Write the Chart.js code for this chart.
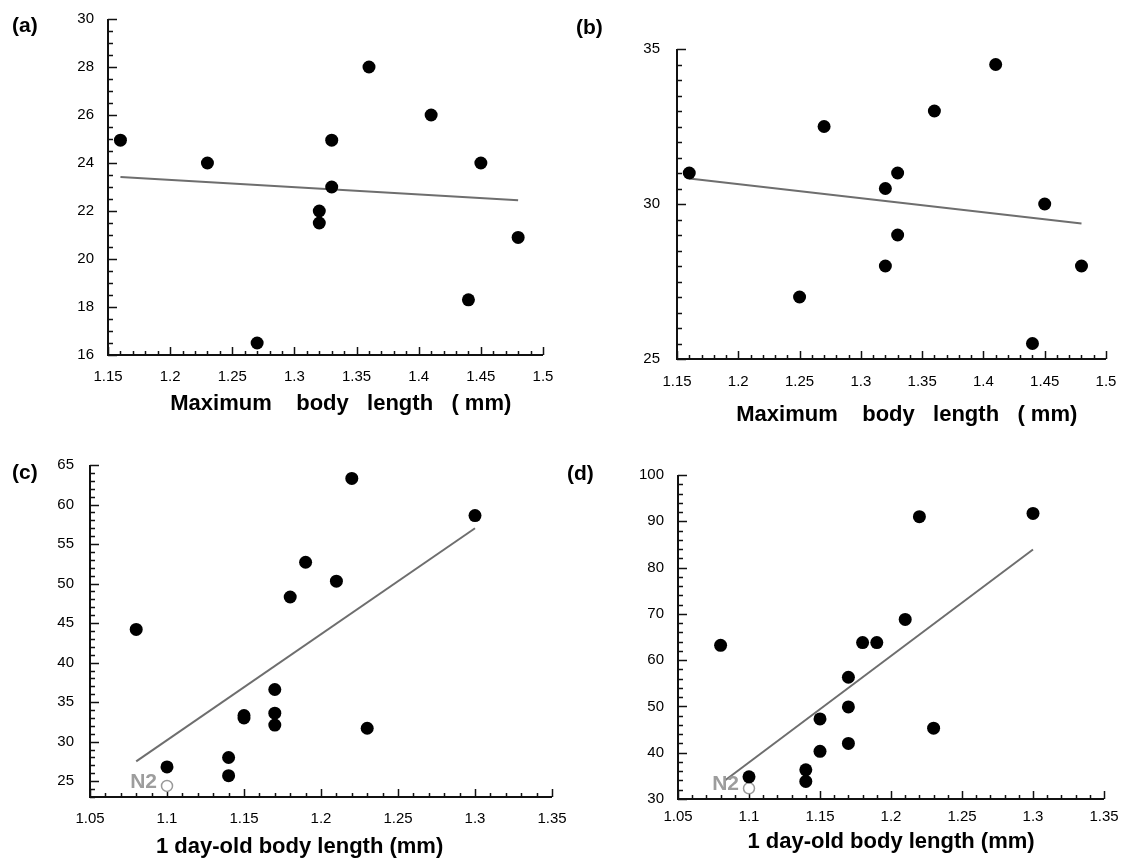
<!DOCTYPE html>
<html>
<head>
<meta charset="utf-8">
<title>Body length scatter plots</title>
<script src="https://cdn.jsdelivr.net/npm/chart.js@4.4.0/dist/chart.umd.min.js"></script>
<style>
  body { margin: 0; background: #fff; }
  #page { position: relative; width: 1137px; height: 863px; overflow: hidden; background: #fff; }
  canvas { position: absolute; }
  .tag { position: absolute; font: bold 21px "Liberation Sans", Arial, sans-serif; line-height: 1; color: #000; }
</style>
</head>
<body>
<div id="page">
  <canvas id="chartA" width="560" height="430" style="left:0;top:0"></canvas>
  <canvas id="chartB" width="577" height="430" style="left:560px;top:0"></canvas>
  <canvas id="chartC" width="585" height="433" style="left:0;top:430px"></canvas>
  <canvas id="chartD" width="552" height="433" style="left:585px;top:430px"></canvas>
  <div class="tag" style="left:12px;top:14px">(a)</div>
  <div class="tag" style="left:576px;top:16px">(b)</div>
  <div class="tag" style="left:12px;top:461px">(c)</div>
  <div class="tag" style="left:567px;top:462px">(d)</div>
</div>
<script>
// (a) maximum body length vs y
const aLength = [1.16, 1.23, 1.27, 1.32, 1.32, 1.33, 1.33, 1.36, 1.41, 1.44, 1.45, 1.48];
const aValue = [24.95, 24.0, 16.5, 22.0, 21.5, 24.95, 23.0, 28.0, 26.0, 18.3, 24.0, 20.9];
const aFitX = [1.16, 1.48];
const aFitY = [23.42, 22.45];
const aXTicks = [1.15, 1.2, 1.25, 1.3, 1.35, 1.4, 1.45, 1.5];
const aXLabels = ["1.15", "1.2", "1.25", "1.3", "1.35", "1.4", "1.45", "1.5"];
const aYTicks = [16, 18, 20, 22, 24, 26, 28, 30];
const aYLabels = ["16", "18", "20", "22", "24", "26", "28", "30"];

// (b)
const bLength = [1.16, 1.25, 1.27, 1.32, 1.32, 1.33, 1.33, 1.36, 1.41, 1.44, 1.45, 1.48];
const bValue = [31.0, 27.0, 32.5, 30.5, 28.0, 31.0, 29.0, 33.0, 34.5, 25.5, 30.0, 28.0];
const bFitX = [1.16, 1.48];
const bFitY = [30.82, 29.37];
const bXTicks = aXTicks;
const bXLabels = aXLabels;
const bYTicks = [25, 30, 35];
const bYLabels = ["25", "30", "35"];

// (c) 1 day-old body length
const cLength = [1.08, 1.10, 1.14, 1.14, 1.15, 1.15, 1.17, 1.17, 1.17, 1.18, 1.19, 1.21, 1.22, 1.23, 1.30];
const cValue = [44.2, 26.8, 28.0, 25.7, 33.0, 33.3, 36.6, 33.6, 32.1, 48.3, 52.7, 50.3, 63.3, 31.7, 58.6];
const cFitX = [1.08, 1.30];
const cFitY = [27.5, 57.0];
const cN2 = [1.10, 24.4];
const cXTicks = [1.05, 1.1, 1.15, 1.2, 1.25, 1.3, 1.35];
const cXLabels = ["1.05", "1.1", "1.15", "1.2", "1.25", "1.3", "1.35"];
const cYTicks = [25, 30, 35, 40, 45, 50, 55, 60, 65];
const cYLabels = ["25", "30", "35", "40", "45", "50", "55", "60", "65"];

// (d)
const dLength = [1.08, 1.10, 1.14, 1.14, 1.15, 1.15, 1.17, 1.17, 1.17, 1.18, 1.19, 1.21, 1.22, 1.23, 1.30];
const dValue = [63.2, 34.8, 36.3, 33.8, 47.3, 40.3, 56.3, 49.9, 42.0, 63.8, 63.8, 68.8, 91.0, 45.3, 91.7];
const dFitX = [1.083, 1.30];
const dFitY = [34.0, 83.9];
const dN2 = [1.10, 32.3];
const dXTicks = cXTicks;
const dXLabels = cXLabels;
const dYTicks = [30, 40, 50, 60, 70, 80, 90, 100];
const dYLabels = ["30", "40", "50", "60", "70", "80", "90", "100"];

const FONT = '"Liberation Sans", Arial, Helvetica, sans-serif';
const INK = "#000";

// axis lines with ticks pointing into the plot, like the original figure
const inwardAxes = {
  id: "inwardAxes",
  beforeDatasetsDraw(chart, args, opts) {
    const { ctx, chartArea: area, scales } = chart;
    const x = scales.x, y = scales.y;
    ctx.save();
    ctx.strokeStyle = "#111";
    ctx.lineWidth = 2;
    ctx.beginPath();
    ctx.moveTo(area.left, area.top);
    ctx.lineTo(area.left, area.bottom);
    ctx.lineTo(area.right, area.bottom);
    ctx.stroke();

    ctx.lineWidth = 1.5;
    ctx.beginPath();
    const n = Math.round((x.max - x.min) / opts.xMinor);
    for (let i = 0; i <= n; i++) {
      const px = Math.round(x.getPixelForValue(x.min + i * opts.xMinor)) + 0.5;
      ctx.moveTo(px, area.bottom);
      ctx.lineTo(px, area.bottom - 4);
    }
    const m = Math.round((y.max - y.min) / opts.yMinor);
    for (let i = 0; i <= m; i++) {
      const py = Math.round(y.getPixelForValue(y.min + i * opts.yMinor)) + 0.5;
      ctx.moveTo(area.left, py);
      ctx.lineTo(area.left + 5, py);
    }
    opts.xMajor.forEach(v => {
      const px = Math.round(x.getPixelForValue(v)) + 0.5;
      ctx.moveTo(px, area.bottom);
      ctx.lineTo(px, area.bottom - 8);
    });
    opts.yMajor.forEach(v => {
      const py = Math.round(y.getPixelForValue(v)) + 0.5;
      ctx.moveTo(area.left, py);
      ctx.lineTo(area.left + 9, py);
    });
    ctx.stroke();
    ctx.restore();
  }
};

// grey "N2" tag beside the wild-type point
const n2Label = {
  id: "n2Label",
  afterDatasetsDraw(chart, args, opts) {
    if (!opts.point) return;
    const { ctx, scales } = chart;
    const px = scales.x.getPixelForValue(opts.point[0]);
    const py = scales.y.getPixelForValue(opts.point[1]);
    ctx.save();
    ctx.font = "bold 21px " + FONT;
    ctx.fillStyle = "#9d9d9d";
    ctx.textAlign = "right";
    ctx.textBaseline = "middle";
    ctx.fillText("N2", px - 10, py - 4);
    ctx.restore();
  }
};

function makePanel(id, p) {
  const datasets = [
    {
      data: p.fitX.map((v, i) => ({ x: v, y: p.fitY[i] })),
      showLine: true, borderColor: "#6e6e6e", borderWidth: 2,
      pointRadius: 0, order: 3, clip: false
    },
    {
      data: p.xs.map((v, i) => ({ x: v, y: p.ys[i] })),
      pointRadius: 6.5, backgroundColor: "#000", borderWidth: 0,
      order: 1, clip: false
    }
  ];
  if (p.n2) {
    datasets.push({
      data: [{ x: p.n2[0], y: p.n2[1] }],
      pointRadius: 5.5, backgroundColor: "#fff", borderColor: "#999",
      borderWidth: 1.5, order: 2, clip: false
    });
  }

  new Chart(document.getElementById(id), {
    type: "scatter",
    data: { datasets },
    options: {
      responsive: false,
      animation: false,
      events: [],
      layout: { padding: { left: 0, top: p.top, right: p.right, bottom: 0 } },
      plugins: {
        legend: { display: false },
        tooltip: { enabled: false },
        inwardAxes: { xMinor: p.xMinor, yMinor: p.yMinor, xMajor: p.xTicks, yMajor: p.yTicks },
        n2Label: { point: p.n2 }
      },
      scales: {
        x: {
          type: "linear", min: p.xMin, max: p.xMax,
          grid: { display: false, drawTicks: false },
          border: { display: false },
          ticks: {
            padding: p.xLabelPad, color: INK, autoSkip: false, maxRotation: 0,
            font: { family: FONT, size: 15 },
            callback: (v, i) => p.xLabels[i]
          },
          afterBuildTicks: s => { s.ticks = p.xTicks.map(v => ({ value: v })); },
          afterFit: s => { s.height = p.xHeight; s.paddingLeft = 0; s.paddingRight = 0; },
          title: {
            display: true, text: p.title, color: INK,
            font: { family: FONT, size: 22, weight: "bold" },
            padding: { top: 0, bottom: p.titlePad }
          }
        },
        y: {
          type: "linear", min: p.yMin, max: p.yMax,
          grid: { display: false, drawTicks: false },
          border: { display: false },
          ticks: {
            padding: p.yLabelPad, color: INK, autoSkip: false,
            font: { family: FONT, size: 15 },
            callback: (v, i) => p.yLabels[i]
          },
          afterBuildTicks: s => { s.ticks = p.yTicks.map(v => ({ value: v })); },
          afterFit: s => { s.width = p.yWidth; s.paddingTop = 0; s.paddingBottom = 0; }
        }
      }
    },
    plugins: [inwardAxes, n2Label]
  });
}

const topTitle = "     Maximum    body   length   ( mm)";
const bottomTitle = "1 day-old body length (mm)";

makePanel("chartA", {
  xs: aLength, ys: aValue, fitX: aFitX, fitY: aFitY,
  xTicks: aXTicks, xLabels: aXLabels, yTicks: aYTicks, yLabels: aYLabels,
  xMin: 1.15, xMax: 1.5, yMin: 16, yMax: 30, xMinor: 0.01, yMinor: 0.5,
  top: 19, right: 17, yWidth: 108, xHeight: 75,
  xLabelPad: 13, yLabelPad: 14, titlePad: 13, title: topTitle
});

makePanel("chartB", {
  xs: bLength, ys: bValue, fitX: bFitX, fitY: bFitY,
  xTicks: bXTicks, xLabels: bXLabels, yTicks: bYTicks, yLabels: bYLabels,
  xMin: 1.15, xMax: 1.5, yMin: 25, yMax: 35, xMinor: 0.01, yMinor: 0.5,
  top: 49, right: 31, yWidth: 117, xHeight: 71,
  xLabelPad: 14, yLabelPad: 17, titlePad: 2, title: topTitle
});

makePanel("chartC", {
  xs: cLength, ys: cValue, fitX: cFitX, fitY: cFitY, n2: cN2,
  xTicks: cXTicks, xLabels: cXLabels, yTicks: cYTicks, yLabels: cYLabels,
  xMin: 1.05, xMax: 1.35, yMin: 23, yMax: 65, xMinor: 0.01, yMinor: 1,
  top: 35, right: 33, yWidth: 90, xHeight: 66,
  xLabelPad: 13, yLabelPad: 16, titlePad: 3, title: bottomTitle + "       "
});

makePanel("chartD", {
  xs: dLength, ys: dValue, fitX: dFitX, fitY: dFitY, n2: dN2,
  xTicks: dXTicks, xLabels: dXLabels, yTicks: dYTicks, yLabels: dYLabels,
  xMin: 1.05, xMax: 1.35, yMin: 30, yMax: 100, xMinor: 0.01, yMinor: 2,
  top: 45, right: 33, yWidth: 93, xHeight: 64,
  xLabelPad: 9, yLabelPad: 14, titlePad: 8, title: bottomTitle
});
</script>
</body>
</html>
